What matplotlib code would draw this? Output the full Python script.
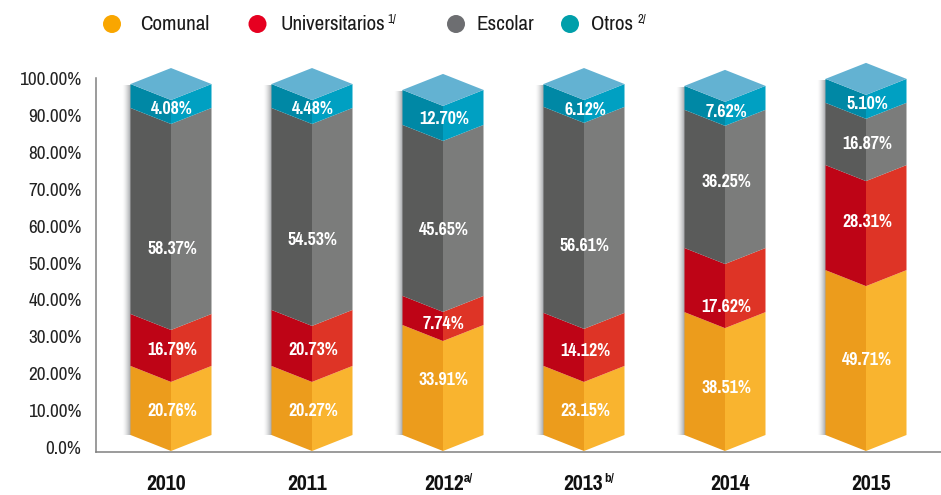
import numpy as np
import matplotlib
matplotlib.use("Agg")
import matplotlib.pyplot as plt
from matplotlib import font_manager as fm
from matplotlib.patches import Ellipse
from matplotlib.colors import to_rgb
from matplotlib.transforms import ScaledTranslation

names = {f.name for f in fm.fontManager.ttflist}
FONT = next((n for n in ("Pragati Narrow", "Archivo Narrow", "Liberation Sans") if n in names), "DejaVu Sans")
plt.rcParams["font.family"] = FONT

# ---- data ----
years = ["2010", "2011", "2012", "2013", "2014", "2015"]
comunal_pct = [20.76, 20.27, 33.91, 23.15, 38.51, 49.71]
universitarios_pct = [16.79, 20.73, 7.74, 14.12, 17.62, 28.31]
escolar_pct = [58.37, 54.53, 45.65, 56.61, 36.25, 16.87]
otros_pct = [4.08, 4.48, 12.70, 6.12, 7.62, 5.10]

# boundaries as drawn in the picture, read on the y axis at the front edge
comunal_top = [18.2, 18.2, 29.3, 18.2, 32.8, 44.2]
universitarios_top = [32.3, 33.4, 37.2, 32.6, 50.2, 72.7]
escolar_top = [88.2, 88.2, 83.6, 88.5, 87.7, 89.6]
otros_top = [94.7, 94.7, 93.1, 94.7, 94.2, 96.1]

y_ticks = [0, 10, 20, 30, 40, 50, 60, 70, 80, 90, 100]
y_tick_labels = ["0.0%"] + [f"{v:.2f}%" for v in y_ticks[1:]]
series_names = ["Comunal", "Universitarios", "Escolar", "Otros"]

# ---- layout (pixels) ----
W, H = 941, 495
PX_Y = 3.685
Y0_PX = 449.0
AX_L, AX_B, AX_T = 96, 452, 78
SLOT = 141.0
X0_PX = 171.0
bar_px = [171, 312, 443, 584, 725, 866]
year_px = [166, 307, 444, 583, 730, 871]
HALF = 40.5 / SLOT
SIDE = 16.0 / PX_Y
BASE = -2.0 / PX_Y
label_y_px = [[411, 350, 249, 109], [411, 350, 240, 109], [380, 324, 230, 119],
              [411, 351, 246, 110], [388, 307, 182, 112], [360, 222, 144, 104]]

LEFT = ["#EC9C1C", "#BE0416", "#5A5B5A", "#0088A5"]
RIGHT = ["#F9B42F", "#DE3426", "#7B7C7B", "#00A0C2"]
TOP = "#63B2D2"
LEGEND = ["#F9A600", "#E60020", "#6D6E71", "#009FAA"]
AXIS = "#808080"
TXT = "#222222"


def xu(px):
    return (px - X0_PX) / SLOT


fig = plt.figure(figsize=(W / 100, H / 100), dpi=100)
ax = fig.add_axes([AX_L / W, 1 - AX_B / H, (W - AX_L) / W, (AX_B - AX_T) / H])
ax.patch.set_alpha(0)

for s in ("top", "right"):
    ax.spines[s].set_visible(False)
for s in ("left", "bottom"):
    ax.spines[s].set_color(AXIS)
    ax.spines[s].set_linewidth(1.1)

ax.set_yticks(y_ticks)
ax.set_yticklabels(y_tick_labels, fontsize=15, color=TXT)
ax.tick_params(axis="y", length=0, pad=10.5)
nudge = ScaledTranslation(0, 1.6 / 100, fig.dpi_scale_trans)
for lab in ax.get_yticklabels():
    lab.set_transform(lab.get_transform() + nudge)
year_x = [xu(p) for p in year_px]
ax.set_xticks(year_x)
ax.set_xticklabels(years, fontsize=17, fontweight="bold", color="#111111")
ax.tick_params(axis="x", length=0, pad=15.5)

# bars
shadow_w = 9 / SLOT
grad = np.linspace(0, 1, 32)
shadow_rgba = np.zeros((1, 32, 4))
shadow_rgba[..., :3] = to_rgb("#808488")
shadow_rgba[..., 3] = grad ** 1.6 * 0.75

for i in range(len(years)):
    c = xu(bar_px[i])
    l, r = c - HALF, c + HALF
    tops = [comunal_top[i], universitarios_top[i], escolar_top[i], otros_top[i]]
    bottoms = [BASE] + tops[:-1]
    ax.imshow(shadow_rgba, extent=[l - shadow_w, l, BASE + SIDE, tops[-1] + SIDE - 0.5],
              aspect="auto", zorder=1, interpolation="bilinear")
    for b, t, lc, rc in zip(bottoms, tops, LEFT, RIGHT):
        ax.fill([l, c, c, l], [b + SIDE, b, t, t + SIDE], color=lc, lw=0, zorder=2, clip_on=False)
        ax.fill([c, r, r, c], [b, b + SIDE, t + SIDE, t], color=rc, lw=0, zorder=2, clip_on=False)
    t = tops[-1]
    ax.fill([l, c, r, c], [t + SIDE, t, t + SIDE, t + 2 * SIDE], color=TOP, lw=0, zorder=3, clip_on=False)
    pcts = [comunal_pct[i], universitarios_pct[i], escolar_pct[i], otros_pct[i]]
    for p, py in zip(pcts, label_y_px[i]):
        ax.text(c + 1 / SLOT, (Y0_PX - py) / PX_Y, f"{p:.2f}%", color="white",
                fontsize=14, fontweight="bold", ha="center", va="center", zorder=4)

ax.set_xlim((AX_L - X0_PX) / SLOT, (W - X0_PX) / SLOT)
ax.set_ylim((Y0_PX - AX_B) / PX_Y, (Y0_PX - AX_T) / PX_Y)

# year superscripts
for idx, sup, dx in [(2, "a/", 20), (3, "b/", 21)]:
    ax.annotate(sup, xy=(year_x[idx], 0), xycoords=("data", "axes fraction"),
                xytext=(dx * 0.72, -19), textcoords="offset points",
                fontsize=10.5, fontweight="bold", color="#111111", ha="left", va="center")

# legend
dot_x = [112, 257.5, 456, 570]
text_x = [140, 281, 476, 591]
for name, col, dx, tx in zip(series_names, LEGEND, dot_x, text_x):
    fig.add_artist(Ellipse((dx / W, 1 - 24 / H), 18 / W, 18 / H, color=col, lw=0,
                           transform=fig.transFigure))
    fig.text(tx / W, 1 - 24 / H, name, fontsize=16.5, color="#1a1a1a", ha="left", va="center")
fig.text(387 / W, 1 - 19 / H, "1/", fontsize=10, color="#1a1a1a", ha="left", va="center")
fig.text(638 / W, 1 - 19 / H, "2/", fontsize=10, color="#1a1a1a", ha="left", va="center")

fig.savefig("out.png", dpi=100)
